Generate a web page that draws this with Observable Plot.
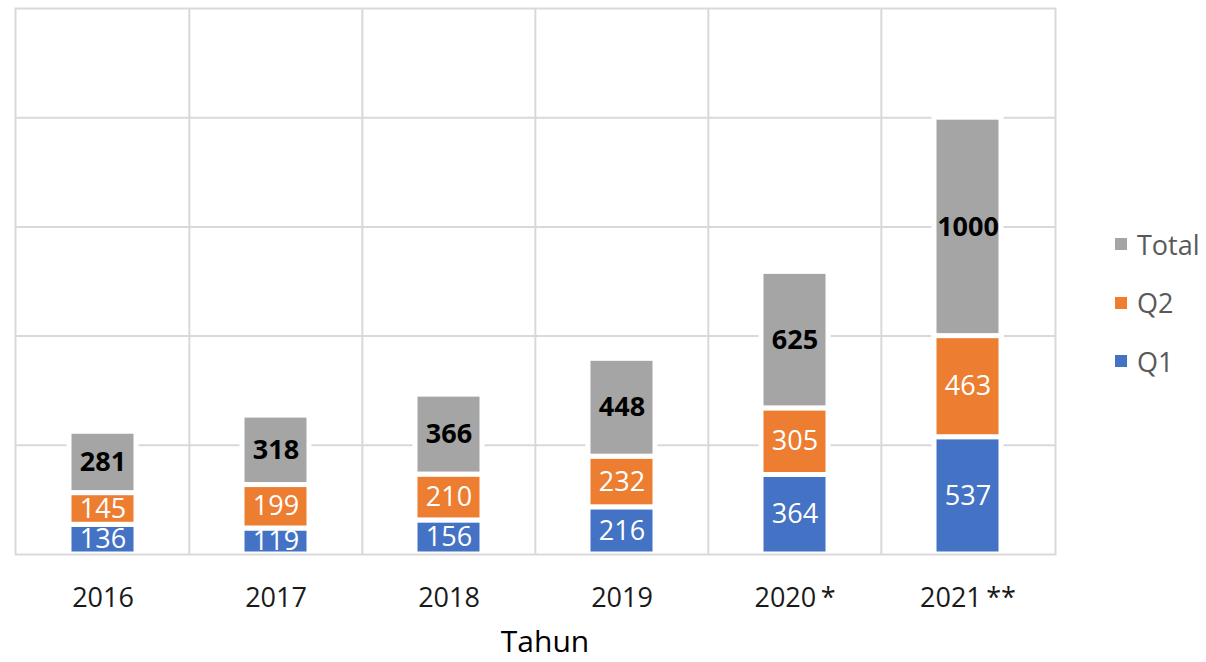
<!DOCTYPE html>
<html>
<head>
<meta charset="utf-8">
<script src="https://cdn.jsdelivr.net/npm/d3@7"></script>
<script src="https://cdn.jsdelivr.net/npm/@observablehq/plot@0.6"></script>
<style>
  html, body { margin: 0; padding: 0; background: #fff; }
  #wrap { position: relative; width: 1206px; height: 662px; font-family: "Open Sans", sans-serif; }
  #legend { position: absolute; left: 1115px; top: 215px; color: #595959; font-size: 27px; }
  .li { display: flex; align-items: center; height: 58.5px; }
  .sw { width: 12px; height: 12px; margin-right: 10px; }
  #xlabel { position: absolute; left: 435px; width: 220px; top: 624px; text-align: center; font-size: 30px; color: #000; line-height: 34px; }
</style>
</head>
<body>
<div id="wrap">
  <div id="chart"></div>
  <div id="legend"></div>
  <div id="xlabel">Tahun</div>
</div>
<script>
const years = ["2016", "2017", "2018", "2019", "2020\u2009*", "2021\u2009**"];
const q1 = [136, 119, 156, 216, 364, 537];
const q2 = [145, 199, 210, 232, 305, 463];
const total = [281, 318, 366, 448, 625, 1000];
const seriesNames = ["Q1", "Q2", "Total"];
const seriesColors = ["#4472C4", "#ED7D31", "#A5A5A5"];
const gridValues = [500, 1000, 1500, 2000];
const xTitle = "Tahun";

const rows = [];
[q1, q2, total].forEach((vals, si) => {
  vals.forEach((v, i) => rows.push({year: years[i], series: seriesNames[si], value: v}));
});

const W = 1206, H = 662, mL = 15, mR = 151, mT = 8, mB = 108;
const step = (W - mL - mR) / years.length;
const grid = "#d9d9d9";

const stackOpts = {x: "year", y: "value", z: "series", order: seriesNames};

const chart = Plot.plot({
  width: W, height: H,
  marginLeft: mL, marginRight: mR, marginTop: mT, marginBottom: mB,
  style: {fontFamily: "Open Sans, sans-serif", fontSize: "27px", color: "#1a1a1a", background: "#fff"},
  x: {domain: years, paddingInner: 0.61, paddingOuter: 0.305, label: null, tickSize: 0, tickPadding: 33},
  y: {domain: [0, 2500], axis: null},
  color: {domain: seriesNames, range: seriesColors},
  marks: [
    Plot.ruleY(gridValues, {stroke: grid, strokeWidth: 2}),
    Plot.ruleX(years.slice(1), {x: d => d, dx: -step / 2, stroke: grid, strokeWidth: 2}),
    Plot.barY(rows, Plot.stackY({...stackOpts, fill: "series", stroke: "#fff", strokeWidth: 5})),
    Plot.frame({stroke: grid, strokeWidth: 2}),
    Plot.text(rows.filter(d => d.series !== "Total"), Plot.stackY({...stackOpts, y: "value", text: "value", fill: "#fff", fontSize: 27})),
    Plot.text(rows, Plot.stackY({...stackOpts, text: d => d.series === "Total" ? String(d.value) : "", fill: "#000", fontSize: 27, fontWeight: "bold"}))
  ]
});
document.getElementById("chart").appendChild(chart);

const legend = document.getElementById("legend");
[...seriesNames].reverse().forEach(name => {
  const i = seriesNames.indexOf(name);
  const li = document.createElement("div");
  li.className = "li";
  li.innerHTML = `<span class="sw" style="background:${seriesColors[i]}"></span><span>${name}</span>`;
  legend.appendChild(li);
});
document.getElementById("xlabel").textContent = xTitle;
</script>
</body>
</html>
